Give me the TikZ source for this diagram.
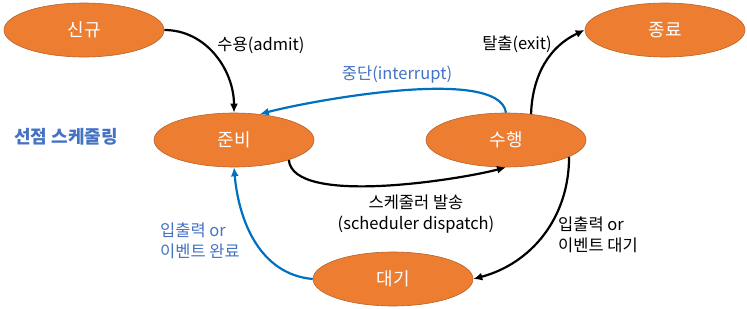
\documentclass[tikz,border=0pt]{standalone}
\usepackage{fontspec}
\setmainfont{Noto Sans CJK KR}
\usetikzlibrary{shapes.geometric,arrows.meta}
\definecolor{stateorange}{HTML}{ED7D31}
\definecolor{stateline}{HTML}{B8612A}
\definecolor{irqblue}{HTML}{0070C0}
\definecolor{textblue}{HTML}{4472C4}

\begin{document}
\begin{tikzpicture}[x=1pt,y=1pt,
  state/.style={ellipse,draw=stateline,fill=stateorange,line width=0.6pt,minimum width=160pt,minimum height=54pt,inner sep=0pt,text=white,font=\fontsize{18}{20}\selectfont},
  edgetext/.style={font=\fontsize{16.5}{21}\selectfont,inner sep=0pt},
  arrow/.style={-{Latex[length=9pt,width=8pt]},draw=black,line width=2.2pt},
  bluearrow/.style={arrow,draw=irqblue}]
  \useasboundingbox (0,0) rectangle (747,-308);
  \node[state] (new) at (84,-30) {신규};
  \node[state] (ready) at (234,-140) {준비};
  \node[state] (run) at (506,-140) {수행};
  \node[state] (done) at (665,-30) {종료};
  \node[state] (wait) at (393,-279) {대기};
  \node[edgetext,text=textblue,font=\fontsize{18}{20}\bfseries] (preempt) at (66,-137) {선점 스케줄링};
  \node[edgetext] (admit) at (261,-45) {수용(admit)};
  \node[edgetext,text=textblue] (interrupt) at (397,-75) {중단(interrupt)};
  \node[edgetext] (exit) at (517,-44) {탈출(exit)};
  \node[edgetext,align=center] (dispatch) at (416,-214) {스케줄러 발송\\(scheduler dispatch)};
  \node[edgetext,align=left,anchor=west] (iowait) at (558,-235) {입출력 or\\이벤트 대기};
  \node[edgetext,align=left,anchor=west,text=textblue] (iodone) at (160,-241) {입출력 or\\이벤트 완료};
  \draw[arrow] (new.east) to[out=0,in=90] (ready.north);
  \draw[bluearrow] (run.north) to[out=98,in=15,looseness=0.5] (ready.45);
  \draw[arrow] (run.46) to[out=88,in=205] (done.west);
  \draw[arrow] (ready.-20) to[out=-85,in=-165,looseness=0.55] (run.south);
  \draw[arrow] (run.-15) to[out=-90,in=15] (wait.east);
  \draw[bluearrow] (wait.west) to[out=175,in=-85] (ready.south);
\end{tikzpicture}
\end{document}
